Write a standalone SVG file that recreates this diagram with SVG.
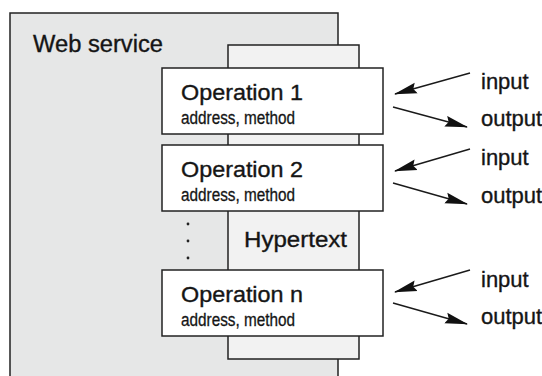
<svg xmlns="http://www.w3.org/2000/svg" width="542" height="376" viewBox="0 0 542 376">
  <style>
    .box { stroke: #222; stroke-width: 1.5; }
    .ws { fill: #e6e7e7; }
    .hyper { fill: #f2f2f2; }
    .op { fill: #ffffff; }
    text { font-family: "Liberation Sans", Arial, Helvetica, sans-serif; fill: #151515; stroke: #151515; stroke-width: 0.35; }
    .big { font-size: 22px; }
    .small { font-size: 18px; stroke-width: 0.3; }
    .io { font-size: 22px; }
    .arrow { stroke: #1a1a1a; stroke-width: 1.4; fill: none; marker-end: url(#head); }
    .dot { fill: #222; }
  </style>
  <defs>
    <!-- filled arrowhead with a slight notch at the back -->
    <marker id="head" markerUnits="userSpaceOnUse" markerWidth="23" markerHeight="12" refX="22" refY="6" orient="auto">
      <path d="M0,0.5 L23,6 L0,11.5 L3,6 z" fill="#111"/>
    </marker>
  </defs>

  <g id="web-service">
    <rect class="box ws" x="10" y="13" width="328" height="370"/>
    <text x="33" y="52" style="font-size:23.5px" textLength="130" lengthAdjust="spacingAndGlyphs">Web service</text>
  </g>

  <g id="hypertext">
    <rect class="box hyper" x="228" y="45" width="131" height="314"/>
    <text class="big" x="244" y="247" textLength="103" lengthAdjust="spacingAndGlyphs">Hypertext</text>
  </g>

  <g id="operation-1">
    <rect class="box op" x="162" y="68" width="221" height="66"/>
    <text class="big" x="181" y="100" textLength="122" lengthAdjust="spacingAndGlyphs">Operation 1</text>
    <text class="small" x="181" y="124" textLength="114" lengthAdjust="spacingAndGlyphs">address, method</text>
  </g>

  <g id="operation-2">
    <rect class="box op" x="162" y="145" width="221" height="66"/>
    <text class="big" x="181" y="177" textLength="122" lengthAdjust="spacingAndGlyphs">Operation 2</text>
    <text class="small" x="181" y="201" textLength="114" lengthAdjust="spacingAndGlyphs">address, method</text>
  </g>

  <g id="ellipsis">
    <circle class="dot" cx="188" cy="224" r="1.4"/>
    <circle class="dot" cx="188" cy="241" r="1.4"/>
    <circle class="dot" cx="188" cy="258" r="1.4"/>
  </g>

  <g id="operation-n">
    <rect class="box op" x="162" y="270" width="221" height="66"/>
    <text class="big" x="181" y="302" textLength="122" lengthAdjust="spacingAndGlyphs">Operation n</text>
    <text class="small" x="181" y="326" textLength="114" lengthAdjust="spacingAndGlyphs">address, method</text>
  </g>

  <g id="io-labels">
    <text class="io" x="481" y="89">input</text>
    <text class="io" x="481" y="126">output</text>
    <text class="io" x="481" y="165">input</text>
    <text class="io" x="481" y="203">output</text>
    <text class="io" x="481" y="287">input</text>
    <text class="io" x="481" y="324">output</text>
  </g>

  <g id="connectors">
    <line class="arrow" x1="470" y1="73" x2="395" y2="94"/>
    <line class="arrow" x1="393" y1="107" x2="467" y2="127"/>
    <line class="arrow" x1="470" y1="149" x2="395" y2="171"/>
    <line class="arrow" x1="393" y1="183" x2="467" y2="204"/>
    <line class="arrow" x1="470" y1="270" x2="395" y2="292"/>
    <line class="arrow" x1="393" y1="303" x2="467" y2="324"/>
  </g>
</svg>
